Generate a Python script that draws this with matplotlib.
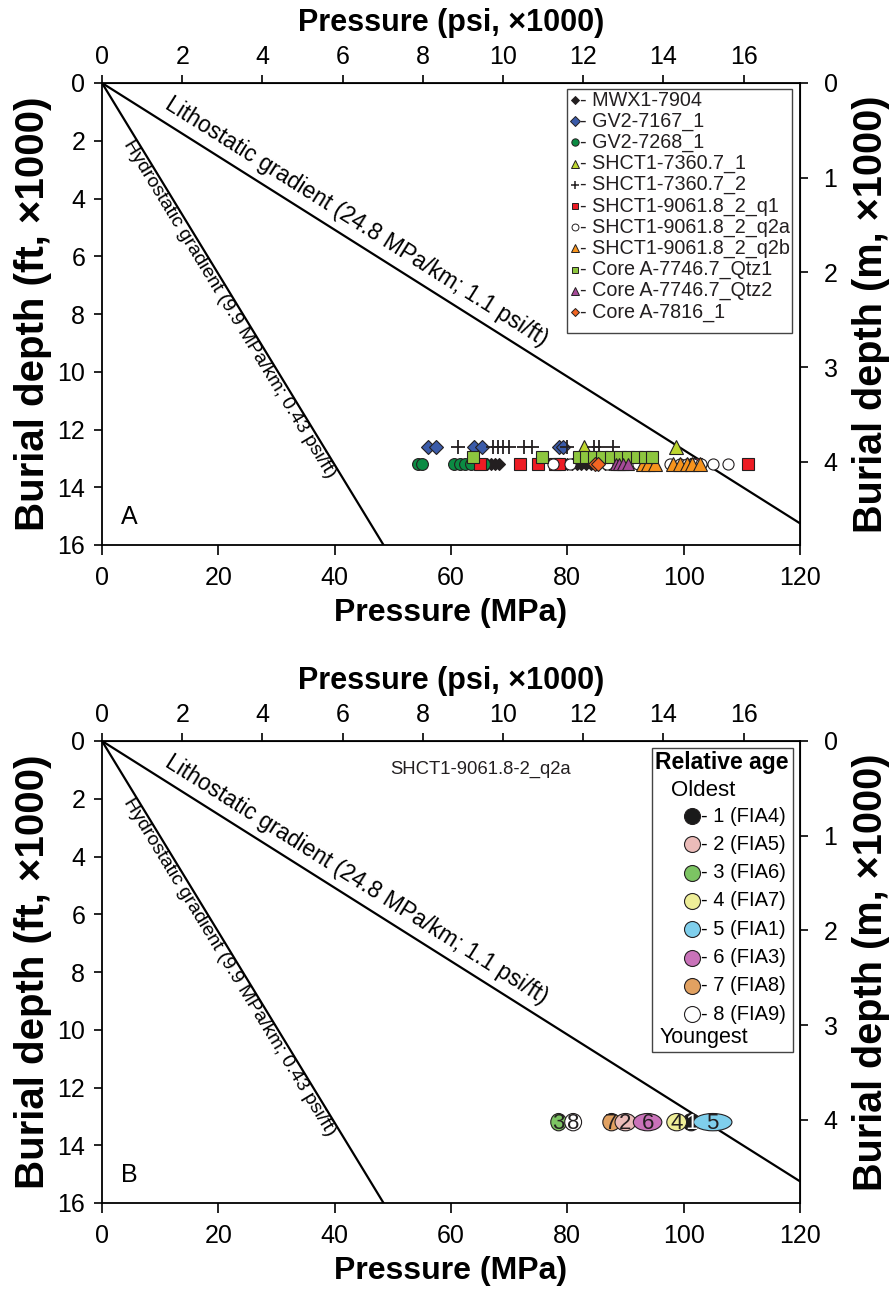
import numpy as np
import matplotlib.pyplot as plt
from matplotlib.patches import Ellipse, Rectangle

plt.rcParams['font.family'] = ['Liberation Sans', 'DejaVu Sans']

MPA_PER_KPSI = 6.894757
KFT_PER_KM = 3.28084

# gradient lines, end points (MPa, depth in 1000 ft)
hydro_end = (48.4, 16.0)
litho_end = (120.0, 15.25)
hydro_label = 'Hydrostatic gradient (9.9 MPa/km; 0.43 psi/ft)'
litho_label = 'Lithostatic gradient (24.8 MPa/km; 1.1 psi/ft)'

# panel A: pressures (MPa) per sample, all at maximum burial depth
mwx1_7904 = [66.2, 66.9, 67.6, 68.3, 79.0, 80.0, 80.8, 81.6, 82.4, 83.2, 84.0, 86.5, 87.2]
gv2_7167_1 = [56.1, 57.5, 64.0, 65.4, 78.6, 79.2]
gv2_7268_1 = [54.4, 55.0, 60.6, 61.5, 62.4, 63.4, 65.6]
shct1_7360_7_1 = [82.8, 98.6]
shct1_7360_7_2 = [61.2, 67.3, 68.1, 69.0, 70.0, 72.6, 74.0, 79.9, 84.6, 85.5, 87.8]
shct1_9061_8_q1 = [64.9, 71.9, 75.0, 77.9, 78.5, 102.2, 111.1]
shct1_9061_8_q2a = [77.6, 80.5, 86.8, 89.3, 90.6, 92.1, 97.6, 99.4, 100.6, 101.6, 103.0, 105.1, 107.7]
shct1_9061_8_q2b = [93.0, 93.9, 95.1, 98.2, 99.4, 100.5, 101.5, 102.8]
core_a_7746_7_qtz1 = [63.8, 75.6, 82.0, 83.2, 84.5, 86.0, 87.5, 89.0, 90.5, 92.0, 93.3, 94.6]
core_a_7746_7_qtz2 = [88.3, 88.9, 89.6, 90.4]
core_a_7816_1 = [84.7, 85.3]

sample_names = ['MWX1-7904', 'GV2-7167_1', 'GV2-7268_1', 'SHCT1-7360.7_1', 'SHCT1-7360.7_2',
                'SHCT1-9061.8_2_q1', 'SHCT1-9061.8_2_q2a', 'SHCT1-9061.8_2_q2b',
                'Core A-7746.7_Qtz1', 'Core A-7746.7_Qtz2', 'Core A-7816_1']
sample_values = [mwx1_7904, gv2_7167_1, gv2_7268_1, shct1_7360_7_1, shct1_7360_7_2,
                 shct1_9061_8_q1, shct1_9061_8_q2a, shct1_9061_8_q2b,
                 core_a_7746_7_qtz1, core_a_7746_7_qtz2, core_a_7816_1]
sample_depth = [13.2, 12.6, 13.2, 12.6, 12.6, 13.2, 13.2, 13.2, 12.95, 13.2, 13.2]

# styles: marker, face colour, size
sample_marker = ['D', 'D', 'o', '^', '+', 's', 'o', '^', 's', '^', 'D']
sample_color = ['#231f20', '#3b5ba9', '#0b8b43', '#bed630', '#231f20', '#ed1c24',
                'white', '#f7941d', '#8dc63f', '#a54a97', '#f26522']
sample_size = [6.5, 7.5, 8.5, 9.5, 10, 8, 8, 9.5, 8, 9, 7]

# panel B: SHCT1-9061.8-2_q2a FIAs, relative age order
fia_rank = [1, 2, 3, 4, 5, 6, 7, 8]
fia_name = ['FIA4', 'FIA5', 'FIA6', 'FIA7', 'FIA1', 'FIA3', 'FIA8', 'FIA9']
fia_center = [101.3, 90.0, 78.5, 98.8, 105.0, 93.8, 87.6, 81.0]
fia_range = [2.9, 3.6, 2.7, 3.4, 6.6, 4.9, 3.0, 2.9]
fia_depth = 13.2
fia_color = ['#1a1a1a', '#ebbcb9', '#7cc463', '#eeee98', '#7fcfec', '#c972b9', '#e1a161', 'white']
fia_draw_order = [3, 8, 7, 2, 6, 1, 4, 5]

fig = plt.figure(figsize=(8.95, 12.93), dpi=100)
axA = fig.add_axes([102 / 895, 1 - 545 / 1293, 698 / 895, 462 / 1293])
axB = fig.add_axes([102 / 895, 1 - 1203 / 1293, 698 / 895, 462 / 1293])


def base_panel(ax, letter):
    ax.set_xlim(0, 120)
    ax.set_ylim(16, 0)
    ax.set_xticks(np.arange(0, 121, 20))
    ax.set_yticks(np.arange(0, 17, 2))
    for s in ax.spines.values():
        s.set_linewidth(1.3)
    ax.tick_params(axis='x', direction='out', length=7, width=1.2, labelsize=18, pad=8)
    ax.tick_params(axis='y', direction='out', length=6, width=1.2, labelsize=18, pad=6)
    ax.set_xlabel('Pressure (MPa)', fontsize=23, fontweight='bold', labelpad=6)
    ax.set_ylabel('Burial depth (ft, ×1000)', fontsize=29, fontweight='bold', labelpad=4)

    top = ax.secondary_xaxis('top', functions=(lambda p: p / MPA_PER_KPSI, lambda k: k * MPA_PER_KPSI))
    top.set_xticks(np.arange(0, 17, 2))
    top.tick_params(direction='out', length=6, width=1.2, labelsize=18, pad=4)
    top.set_xlabel('Pressure (psi, ×1000)', fontsize=22, fontweight='bold', labelpad=10)

    right = ax.secondary_yaxis('right', functions=(lambda d: d / KFT_PER_KM, lambda m: m * KFT_PER_KM))
    right.set_yticks(np.arange(0, 5, 1))
    right.tick_params(direction='out', length=6, width=1.2, labelsize=18, pad=11)
    right.set_ylabel('Burial depth (m, ×1000)', fontsize=28.5, fontweight='bold', labelpad=10)

    ax.plot([0, hydro_end[0]], [0, hydro_end[1]], color='black', lw=1.6, zorder=2)
    ax.plot([0, litho_end[0]], [0, litho_end[1]], color='black', lw=1.6, zorder=2)

    def screen_angle(end):
        p0 = ax.transData.transform((0, 0))
        p1 = ax.transData.transform(end)
        return np.degrees(np.arctan2(p1[1] - p0[1], p1[0] - p0[0]))

    xl = 42.7
    ax.text(xl, xl * litho_end[1] / litho_end[0] - 0.3, litho_label, fontsize=16.5,
            rotation=screen_angle(litho_end), rotation_mode='anchor',
            ha='center', va='bottom')
    xh = 23.2
    ax.text(xh, xh * hydro_end[1] / hydro_end[0], hydro_label, fontsize=14,
            rotation=screen_angle(hydro_end), rotation_mode='anchor',
            ha='center', va='top')
    ax.text(0.027, 0.045, letter, transform=ax.transAxes, fontsize=18)


base_panel(axA, 'A')
base_panel(axB, 'B')


def frac_y(py, top_px):
    return 1 - (py - top_px) / 462


# ---- panel A points
for i, vals in enumerate(sample_values):
    mk = sample_marker[i]
    kw = dict(linestyle='none', marker=mk, markersize=sample_size[i], zorder=3 + i * 0.1)
    if mk == '+':
        kw.update(color=sample_color[i], markeredgewidth=1.3)
    else:
        kw.update(markerfacecolor=sample_color[i], markeredgecolor='#231f20', markeredgewidth=0.8)
    axA.plot(vals, [sample_depth[i]] * len(vals), **kw)

# legend A, drawn by hand
x0, x1 = (567 - 102) / 698, (792 - 102) / 698
y0, y1 = frac_y(333, 83), frac_y(89, 83)
axA.add_patch(Rectangle((x0, y0), x1 - x0, y1 - y0, transform=axA.transAxes,
                        facecolor='white', edgecolor='#444444', lw=1.0, zorder=10))
for i, name in enumerate(sample_names):
    yy = frac_y(100 + 21.2 * i, 83)
    mk = sample_marker[i]
    kw = dict(linestyle='none', marker=mk, markersize=sample_size[i] * 0.62,
              transform=axA.transAxes, zorder=11, clip_on=False)
    if mk == '+':
        kw.update(color=sample_color[i], markeredgewidth=1.1)
    else:
        kw.update(markerfacecolor=sample_color[i], markeredgecolor='#231f20', markeredgewidth=0.7)
    axA.plot([(575 - 102) / 698], [yy], **kw)
    axA.text((580 - 102) / 698, yy, '- ' + name, transform=axA.transAxes, fontsize=14.2,
             va='center', ha='left', zorder=11, color='#231f20')

# ---- panel B ellipses
for r in fia_draw_order:
    i = fia_rank.index(r)
    axB.add_patch(Ellipse((fia_center[i], fia_depth), fia_range[i], 0.6,
                          facecolor=fia_color[i], edgecolor='#231f20', lw=0.8, zorder=4))
    axB.text(fia_center[i], fia_depth + 0.03, str(r), ha='center', va='center', fontsize=16,
             color='white' if r == 1 else '#231f20', zorder=5)

axB.text(65, 1.0, 'SHCT1-9061.8-2_q2a', fontsize=13.3, ha='center', va='center', color='#231f20')

# legend B, drawn by hand
x0, x1 = (652 - 102) / 698, (793 - 102) / 698
y0, y1 = frac_y(1052, 741), frac_y(748, 741)
axB.add_patch(Rectangle((x0, y0), x1 - x0, y1 - y0, transform=axB.transAxes,
                        facecolor='white', edgecolor='#444444', lw=1.0, zorder=10))
axB.text((655 - 102) / 698, frac_y(762, 741), 'Relative age', transform=axB.transAxes,
         fontsize=16.5, fontweight='bold', va='center', ha='left', zorder=11)
axB.text((671 - 102) / 698, frac_y(791, 741), 'Oldest', transform=axB.transAxes,
         fontsize=16, va='center', ha='left', zorder=11)
for i, r in enumerate(fia_rank):
    yy = frac_y(816 + 28.3 * i, 741)
    axB.plot([(692 - 102) / 698], [yy], linestyle='none', marker='o', markersize=11.5,
             markerfacecolor=fia_color[i], markeredgecolor='#231f20', markeredgewidth=0.8,
             transform=axB.transAxes, zorder=11, clip_on=False)
    axB.text((701 - 102) / 698, yy, f'- {r} ({fia_name[i]})', transform=axB.transAxes,
             fontsize=14.5, va='center', ha='left', zorder=11)
axB.text((660 - 102) / 698, frac_y(1038, 741), 'Youngest', transform=axB.transAxes,
         fontsize=15.5, va='center', ha='left', zorder=11)

fig.savefig('out.png', dpi=100)
